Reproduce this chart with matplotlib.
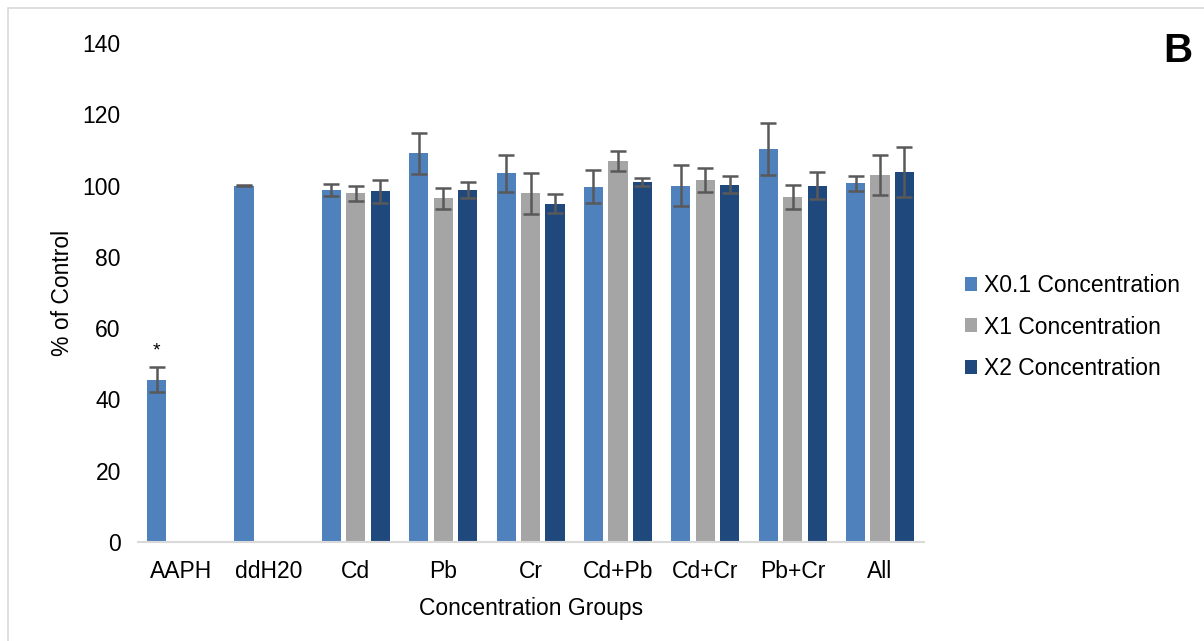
import numpy as np
import matplotlib
matplotlib.use("Agg")
import matplotlib.pyplot as plt
from matplotlib.patches import Rectangle

plt.rcParams['font.family'] = ['Liberation Sans', 'DejaVu Sans']

categories = ["AAPH", "ddH20", "Cd", "Pb", "Cr", "Cd+Pb", "Cd+Cr", "Pb+Cr", "All"]
series_names = ["X0.1 Concentration", "X1 Concentration", "X2 Concentration"]
x01_vals = [45.5, 100.0, 98.8, 109.0, 103.4, 99.7, 100.0, 110.2, 100.6]
x01_err = [3.5, 0.2, 1.7, 5.8, 5.1, 4.6, 5.8, 7.3, 2.0]
x1_vals = [np.nan, np.nan, 97.8, 96.4, 97.8, 106.9, 101.6, 96.8, 103.0]
x1_err = [np.nan, np.nan, 2.0, 2.9, 5.7, 2.8, 3.3, 3.5, 5.7]
x2_vals = [np.nan, np.nan, 98.4, 98.7, 94.9, 100.9, 100.3, 100.0, 103.9]
x2_err = [np.nan, np.nan, 3.3, 2.3, 2.7, 1.1, 2.4, 3.7, 7.0]
yticks = [0, 20, 40, 60, 80, 100, 120, 140]
star_value = 53.5

colors = ["#4F81BD", "#A5A5A5", "#1F497D"]
FS = 16.5
W, H = 1204, 641
fig = plt.figure(figsize=(W / 100, H / 100), dpi=100)
fig.patches.append(Rectangle((8 / W, -0.05), 1.2, (H - 8) / H + 0.05,
                             transform=fig.transFigure, fill=False,
                             edgecolor="#D9D9D9", linewidth=1.2))

ax = fig.add_axes([137.5 / W, (H - 542) / H, (923.7 - 137.5) / W, (542 - 43) / H])
x = np.arange(len(categories))
step = 0.28
bw = 0.22
for i, (vals, errs) in enumerate([(x01_vals, x01_err), (x1_vals, x1_err), (x2_vals, x2_err)]):
    ax.bar(x + (i - 1) * step, vals, width=bw, color=colors[i], label=series_names[i],
           yerr=errs, error_kw=dict(ecolor="#595959", elinewidth=1.8, capsize=5.5, capthick=1.8),
           zorder=2)

ax.text(x[0] - step, star_value, "*", ha="center", va="center", fontsize=14, color="black")

ax.set_xlim(-0.5, len(categories) - 0.5)
ax.set_ylim(0, 140)
ax.set_yticks(yticks)
ax.set_yticklabels([str(t) for t in yticks], fontsize=FS)
ax.set_xticks(x)
ax.set_xticklabels(categories, fontsize=FS)
ax.tick_params(axis="x", length=0, pad=13)
ax.tick_params(axis="y", length=0, pad=12)
for s in ["top", "right", "left"]:
    ax.spines[s].set_visible(False)
ax.spines["bottom"].set_color("#D9D9D9")
ax.spines["bottom"].set_linewidth(1.5)
ax.set_xlabel("Concentration Groups", fontsize=FS, labelpad=10)
ax.set_ylabel("% of Control", fontsize=FS, labelpad=6.5)

leg = ax.legend(loc="center left", bbox_to_anchor=(944 / W, (H - 327) / H),
                bbox_transform=fig.transFigure, frameon=False, fontsize=FS,
                handlelength=0.55, handleheight=0.55, handletextpad=0.3, labelspacing=0.82)

fig.text(1178 / W, (H - 51) / H, "B", fontsize=29, fontweight="bold", ha="center", va="center")

fig.savefig("out.png", dpi=100)
